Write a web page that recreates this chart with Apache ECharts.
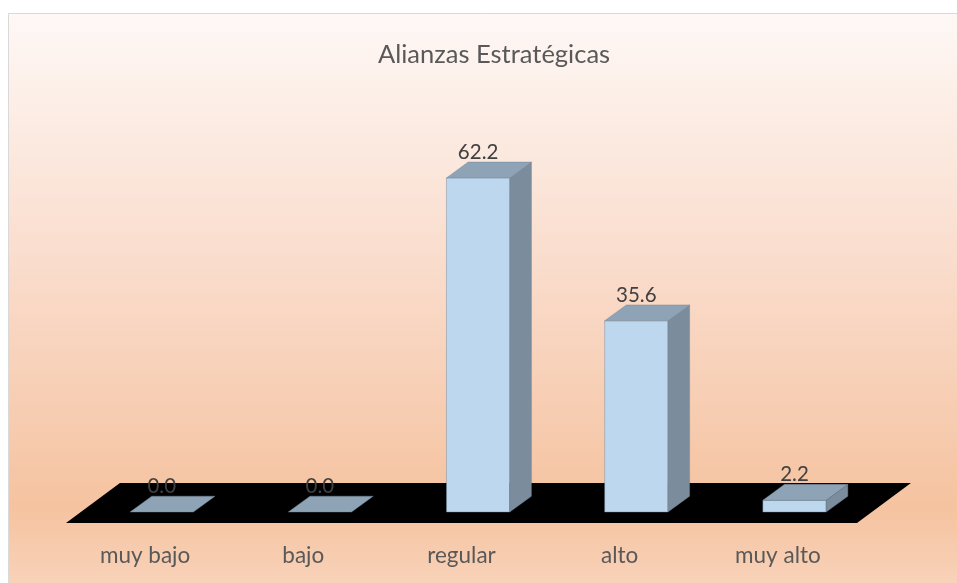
<!DOCTYPE html>
<html>
<head>
<meta charset="utf-8">
<script src="https://cdn.jsdelivr.net/npm/echarts@6/dist/echarts.min.js"></script>
<style>
html,body{margin:0;padding:0;background:#fff;}
#chart{width:957px;height:583px;}
</style>
</head>
<body>
<div id="chart"></div>
<script>
const titleText = 'Alianzas Estratégicas';
const categories = ['muy bajo', 'bajo', 'regular', 'alto', 'muy alto'];
const values = [0.0, 0.0, 62.2, 35.6, 2.2];

const FONT = 'Lato';
const chart = echarts.init(document.getElementById('chart'));

function renderFloor(params, api) {
  const cs = params.coordSys;
  const band = api.size([1, 0])[0];
  const y0 = api.coord([0, 0])[1];
  const fy = y0 + band * 0.07;
  const by = fy - band * 0.253;
  const dx = band * 0.341;
  return {
    type: 'polygon',
    shape: { points: [[cs.x, fy], [cs.x + cs.width, fy], [cs.x + cs.width + dx, by], [cs.x + dx, by]] },
    style: { fill: '#000000' }
  };
}

function renderBar(params, api) {
  const idx = api.value(0), val = api.value(1);
  const base = api.coord([idx, 0]);
  const top = api.coord([idx, val]);
  const band = api.size([1, 0])[0];
  const w = band * 0.40;
  const x0 = base[0] - band * 0.095;
  const x1 = x0 + w;
  const dx = band * 0.137;
  const dy = dx * 0.73;
  const by = base[1], ty = top[1];
  const edge = 'rgba(110,130,150,0.7)';
  const children = [];
  if (by - ty > 0.5) {
    children.push({ type: 'rect', shape: { x: x0, y: ty, width: w, height: by - ty },
      style: { fill: '#bdd7ee', stroke: edge, lineWidth: 0.6 } });
    children.push({ type: 'polygon', shape: { points: [[x1, by], [x1, ty], [x1 + dx, ty - dy], [x1 + dx, by - dy]] },
      style: { fill: '#7b8c9c', stroke: edge, lineWidth: 0.6 } });
  }
  children.push({ type: 'polygon', shape: { points: [[x0, ty], [x1, ty], [x1 + dx, ty - dy], [x0 + dx, ty - dy]] },
    style: { fill: '#8ea3b5', stroke: edge, lineWidth: 0.6 } });
  children.push({ type: 'text', style: {
    text: val.toFixed(1), x: x0 + w / 2, y: ty - dy - 10,
    align: 'center', verticalAlign: 'middle',
    fontSize: 20.5, fontFamily: FONT, fill: '#404040' } });
  return { type: 'group', children };
}

chart.setOption({
  animation: false,
  backgroundColor: '#ffffff',
  graphic: [{
    type: 'rect', z: -10, silent: true,
    shape: { x: 8.5, y: 13.5, width: 960, height: 580 },
    style: {
      fill: { type: 'linear', x: 0, y: 0, x2: 0, y2: 1, colorStops: [
        { offset: 0, color: '#fef8f6' },
        { offset: 0.5, color: '#f9d8c5' },
        { offset: 0.85, color: '#f5c3a0' },
        { offset: 1, color: '#f9d4bc' }
      ] },
      stroke: '#d9d9d9', lineWidth: 1
    }
  }],
  title: {
    text: titleText, left: 373, top: 37,
    textStyle: { fontFamily: FONT, fontSize: 25.5, fontWeight: 'normal', color: '#595959' }
  },
  grid: { left: 66, right: 100, top: 136, bottom: 71 },
  xAxis: {
    type: 'category', data: categories,
    axisLine: { show: false }, axisTick: { show: false }, splitLine: { show: false },
    axisLabel: { fontFamily: FONT, fontSize: 22.5, color: '#595959', margin: 32 }
  },
  yAxis: { type: 'value', min: 0, max: 70, show: false, splitLine: { show: false } },
  series: [
    { type: 'custom', z: 1, renderItem: renderFloor, data: [[0, 0]], silent: true },
    { type: 'custom', z: 2, renderItem: renderBar, data: values.map((v, i) => [i, v]) }
  ]
});
</script>
</body>
</html>
